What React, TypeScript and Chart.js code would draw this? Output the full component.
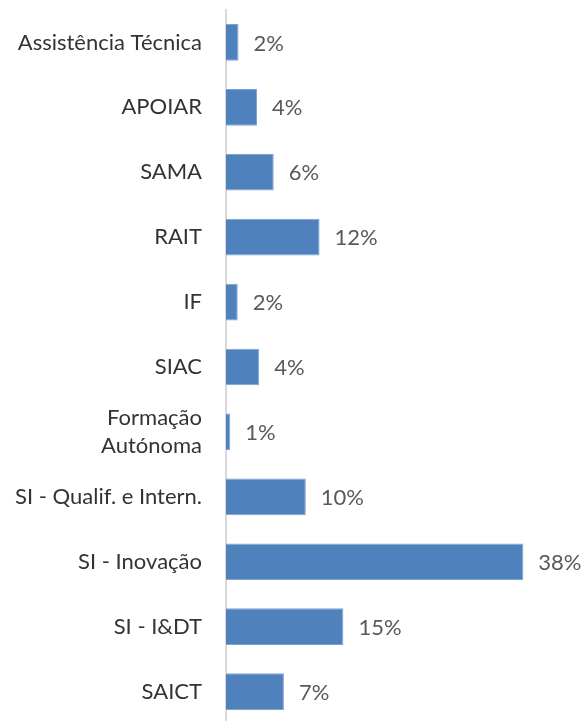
import React, { useEffect, useRef } from "react";
import { Chart, registerables } from "chart.js";

Chart.register(...registerables);

const categories: (string | string[])[] = [
  "Assistência Técnica",
  "APOIAR",
  "SAMA",
  "RAIT",
  "IF",
  "SIAC",
  ["Formação", "Autónoma"],
  "SI - Qualif. e Intern.",
  "SI - Inovação",
  "SI - I&DT",
  "SAICT",
];

const values: number[] = [1.6, 3.96, 6.1, 11.96, 1.5, 4.25, 0.55, 10.2, 38, 15, 7.4];

const valueLabels: string[] = ["2%", "4%", "6%", "12%", "2%", "4%", "1%", "10%", "38%", "15%", "7%"];

const FONT = "Lato, 'Open Sans', sans-serif";

const valueLabelPlugin = {
  id: "valueLabels",
  afterDatasetsDraw(chart: any) {
    const ctx = chart.ctx;
    const meta = chart.getDatasetMeta(0);
    ctx.save();
    ctx.font = `22px ${FONT}`;
    ctx.fillStyle = "#595959";
    ctx.textAlign = "left";
    ctx.textBaseline = "middle";
    meta.data.forEach((bar: any, i: number) => {
      ctx.fillText(valueLabels[i], bar.x + 15, bar.y + 1);
    });
    ctx.restore();
  },
};

export default function App() {
  const ref = useRef<HTMLCanvasElement | null>(null);

  useEffect(() => {
    if (!ref.current) return;
    const chart = new Chart(ref.current, {
      type: "bar",
      data: {
        labels: categories,
        datasets: [
          {
            data: values,
            backgroundColor: "#4F81BD",
            borderColor: "#7ea3d1",
            borderWidth: 1,
            barPercentage: 0.565,
            categoryPercentage: 1,
          },
        ],
      },
      options: {
        indexAxis: "y",
        animation: false,
        responsive: false,
        maintainAspectRatio: false,
        layout: { padding: { top: 10, right: 46, bottom: 0, left: 0 } },
        plugins: {
          legend: { display: false },
          tooltip: { enabled: false },
        },
        scales: {
          x: {
            display: false,
            min: 0,
            max: 40,
          },
          y: {
            grid: { display: false, drawTicks: false },
            border: { display: true, color: "#d9d9d9", width: 2 },
            ticks: {
              color: "#333333",
              padding: 24,
              font: { family: FONT, size: 22, lineHeight: 1.3 },
            },
            afterFit(scale: any) {
              scale.width = 226;
              scale.paddingTop = 0;
              scale.paddingBottom = 0;
            },
          },
        },
      },
      plugins: [valueLabelPlugin],
    });
    return () => chart.destroy();
  }, []);

  return (
    <div
      style={{
        position: "fixed",
        left: 0,
        top: 0,
        width: 585,
        height: 721,
        overflow: "hidden",
        background: "#fff",
      }}
    >
      <canvas ref={ref} width={585} height={724} />
    </div>
  );
}
